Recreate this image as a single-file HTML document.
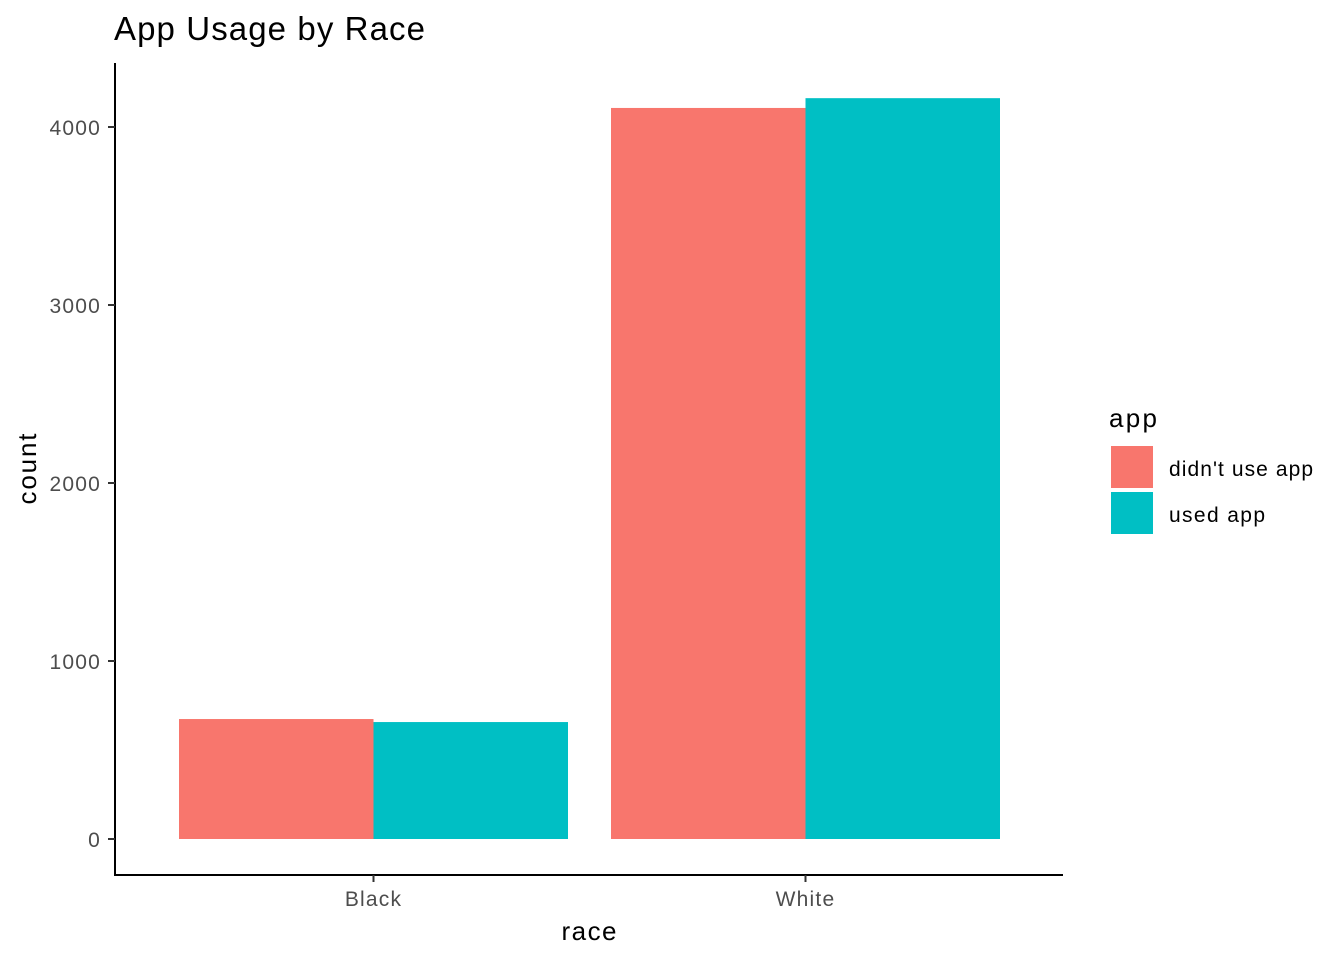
<!DOCTYPE html>
<html><head><meta charset="utf-8"><style>
body{margin:0;background:#fff;}
svg text{font-family:"Liberation Sans",Arial,sans-serif;}
</style></head><body>
<svg id="chart" width="1344" height="960" xmlns="http://www.w3.org/2000/svg">
<text x="114" y="40" font-size="33" textLength="311" lengthAdjust="spacing" fill="#000">App Usage by Race</text>
<g id="plot"></g>
<text x="589" y="940" font-size="26" textLength="55" lengthAdjust="spacing" text-anchor="middle" fill="#000">race</text>
<text transform="translate(36,469) rotate(-90)" font-size="26" textLength="71" lengthAdjust="spacing" text-anchor="middle" fill="#000">count</text>
<g>
<text x="1109" y="427" font-size="26" textLength="48" lengthAdjust="spacing" fill="#000">app</text>
<rect x="1111" y="446" width="42" height="42" fill="#F8766D"/>
<text x="1169" y="476" font-size="21" textLength="144" lengthAdjust="spacing" fill="#000">didn't use app</text>
<rect x="1111" y="492" width="42" height="42" fill="#00BFC4"/>
<text x="1169" y="522" font-size="21" textLength="96" lengthAdjust="spacing" fill="#000">used app</text>
</g>
</svg>
<script>
const categories = ["Black", "White"];
const seriesNames = ["didn't use app", "used app"];
const didntUse = [674, 4107];
const usedApp = [657, 4162];
const yTicks = [0, 1000, 2000, 3000, 4000];
const colors = ["#F8766D", "#00BFC4"];

const NS = "http://www.w3.org/2000/svg";
const g = document.getElementById("plot");
const y0 = 839, pxPerUnit = 712 / 4000;
const y = v => y0 - v * pxPerUnit;
const xCenter = i => 373.5 + i * 432;
const barW = 194.5;
function mk(tag, attrs){const e=document.createElementNS(NS,tag);for(const k in attrs)e.setAttribute(k,attrs[k]);g.appendChild(e);return e;}

[didntUse, usedApp].forEach((vals, s) => {
  vals.forEach((v, i) => {
    const x = xCenter(i) + (s === 0 ? -barW : 0);
    const r = mk("rect", {x: x, y: y(v), width: barW, height: y0 - y(v), fill: colors[s]});
    
    
  });
});

const ax = mk("path", {d: "M115,63 V875 H1063", stroke: "#000", "stroke-width": 2, fill: "none"});



yTicks.forEach(t => {
  const tk = mk("line", {x1: 108, x2: 115, y1: y(t), y2: y(t), stroke: "#333", "stroke-width": 2});
  
  
  const lb = mk("text", {x: 101, y: y(t) + 8, "font-size": 21, "letter-spacing": 1.2, "text-anchor": "end", fill: "#4d4d4d"});
  lb.textContent = t;
  
  
});
categories.forEach((c, i) => {
  const tk = mk("line", {x1: xCenter(i), x2: xCenter(i), y1: 875, y2: 882, stroke: "#333", "stroke-width": 2});
  
  
  const lb = mk("text", {x: xCenter(i), y: 906, "font-size": 21, "letter-spacing": 1.2, "text-anchor": "middle", fill: "#4d4d4d"});
  lb.textContent = c;
  
  
});
</script>
</body></html>
